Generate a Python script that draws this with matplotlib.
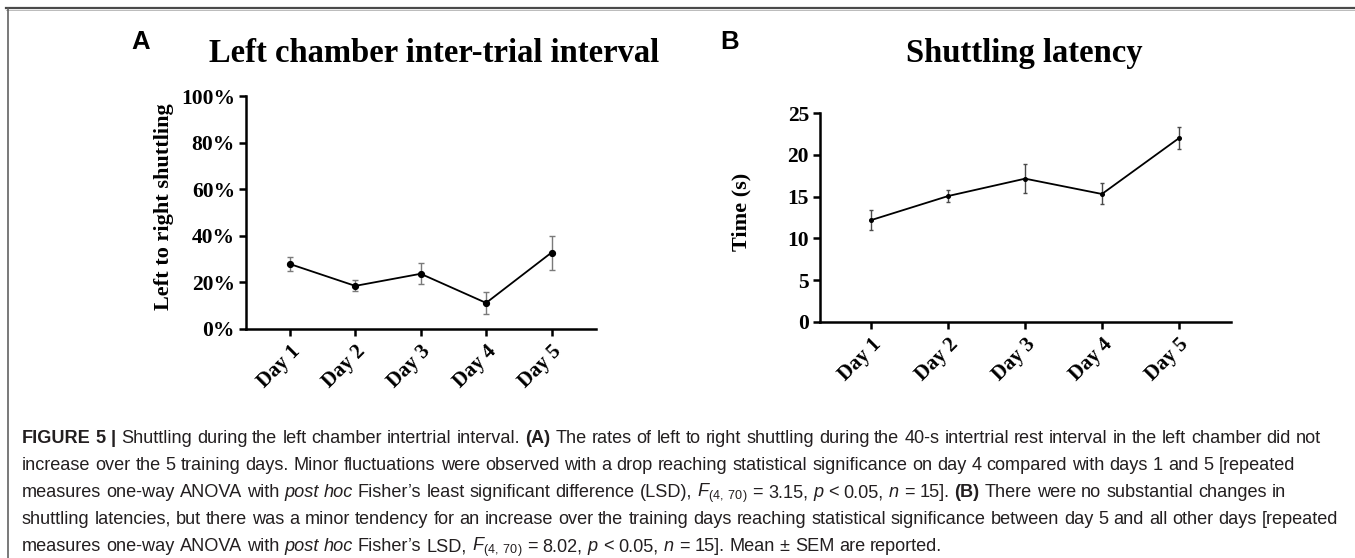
import re
import matplotlib
matplotlib.use("Agg")
import matplotlib.pyplot as plt
from matplotlib import font_manager as fm
from matplotlib.lines import Line2D

# ---------------- data ----------------
days = ["Day 1", "Day 2", "Day 3", "Day 4", "Day 5"]
a_mean = [27.9, 18.5, 23.7, 11.2, 32.8]
a_sem = [2.8, 2.4, 4.6, 4.6, 7.3]
a_ticks = [0, 20, 40, 60, 80, 100]
a_ticklabels = ["0%", "20%", "40%", "60%", "80%", "100%"]
b_mean = [12.2, 15.08, 17.16, 15.32, 22.0]
b_sem = [1.14, 0.76, 1.78, 1.26, 1.32]
b_ticks = [0, 5, 10, 15, 20, 25]
b_ticklabels = ["0", "5", "10", "15", "20", "25"]

W, H, DPI = 1355, 558, 100


def has_font(name):
    try:
        fm.findfont(fm.FontProperties(family=name), fallback_to_default=False)
        return True
    except Exception:
        return False


SERIF = "Liberation Serif"
SANS = "Liberation Sans"
CAP = "Liberation Sans Narrow" if has_font("Liberation Sans Narrow") else "Liberation Sans"

plt.rcParams["mathtext.fontset"] = "custom"
plt.rcParams["mathtext.rm"] = CAP
plt.rcParams["mathtext.it"] = CAP + ":italic"
plt.rcParams["mathtext.bf"] = CAP + ":bold"

fig = plt.figure(figsize=(W / DPI, H / DPI), dpi=DPI)


def fx(px):
    return px / W


def fy(py):
    return 1 - py / H


# frame lines (top and left)
fig.add_artist(Line2D([fx(6), fx(1355)], [fy(8), fy(8)], color="#4a4a4a", lw=1.6))
fig.add_artist(Line2D([fx(6), fx(1355)], [fy(9.6), fy(9.6)], color="#b0b0b0", lw=0.6))
fig.add_artist(Line2D([fx(8), fx(8)], [fy(8), fy(558)], color="#555555", lw=1.1))


def make_axes(left, top, right, bottom, mean, sem, ticks, ticklabels,
              ecolor, msize, capsize):
    ax = fig.add_axes([fx(left), fy(bottom), fx(right - left), (bottom - top) / H])
    x = list(range(1, len(days) + 1))
    ax.errorbar(x, mean, yerr=sem, fmt="none", ecolor=ecolor, elinewidth=1.0,
                capsize=capsize, capthick=1.0, zorder=2)
    ax.plot(x, mean, color="black", lw=1.3, marker="o", markersize=msize,
            markerfacecolor="black", markeredgecolor="black", zorder=3)
    ax.set_xlim(0.33, 5.68)
    ax.set_ylim(ticks[0], ticks[-1])
    ax.set_yticks(ticks)
    ax.set_yticklabels(ticklabels, fontfamily=SERIF, fontweight="bold", fontsize=15.5)
    ax.set_xticks(x)
    ax.set_xticklabels(days, fontfamily=SERIF, fontweight="bold", fontsize=15,
                       rotation=45, ha="right", va="top", rotation_mode="anchor")
    for s in ["top", "right"]:
        ax.spines[s].set_visible(False)
    for s in ["left", "bottom"]:
        ax.spines[s].set_linewidth(1.8)
    ax.tick_params(axis="both", direction="out", length=5, width=1.8, pad=3)
    ax.tick_params(axis="x", pad=4)
    ax.set_facecolor("none")
    for c in ax.spines.values():
        c.set_capstyle("projecting")
    return ax


axA = make_axes(246, 96, 596, 329, a_mean, a_sem, a_ticks, a_ticklabels,
                "#7a7a7a", 4.2, 2.5)
axB = make_axes(820, 113.3, 1231, 321.7, b_mean, b_sem, b_ticks, b_ticklabels,
                "#4a4a4a", 2.6, 1.6)

# titles and labels
fig.text(fx(434), fy(62), "Left chamber inter-trial interval", fontfamily=SERIF,
         fontweight="bold", fontsize=23.5, ha="center", va="baseline")
fig.text(fx(1024), fy(62), "Shuttling latency", fontfamily=SERIF,
         fontweight="bold", fontsize=23.5, ha="center", va="baseline")
fig.text(fx(141), fy(49), "A", fontfamily=SANS, fontweight="bold", fontsize=18.5,
         ha="center", va="baseline")
fig.text(fx(730), fy(49), "B", fontfamily=SANS, fontweight="bold", fontsize=18.5,
         ha="center", va="baseline")
fig.text(fx(164), fy(207), "Left to right shuttling", fontfamily=SERIF,
         fontweight="bold", fontsize=16, rotation=90, ha="center", va="center")
fig.text(fx(741), fy(212), "Time (s)", fontfamily=SERIF,
         fontweight="bold", fontsize=16, rotation=90, ha="center", va="center")

# ---------------- caption ----------------
N, B, I = "normal", "bold", "italic"
caption_lines = [
    [("FIGURE 5 |", B), (" Shuttling during the left chamber intertrial interval. ", N),
     ("(A)", B), (" The rates of left to right shuttling during the 40-s intertrial rest "
                  "interval in the left chamber did not", N)],
    [("increase over the 5 training days. Minor fluctuations were observed with a drop "
      "reaching statistical significance on day 4 compared with days 1 and 5 [repeated", N)],
    [("measures one-way ANOVA with ", N), ("post hoc", I),
     (" Fisher\u2019s least significant difference (LSD), ", N), (r"$F_{(4,\;70)}$", N),
     (" = 3.15, ", N), ("p", I), (" < 0.05, ", N), ("n", I), (" = 15]. ", N), ("(B)", B),
     (" There were no substantial changes in", N)],
    [("shuttling latencies, but there was a minor tendency for an increase over the "
      "training days reaching statistical significance between day 5 and all other days [repeated", N)],
    [("measures one-way ANOVA with ", N), ("post hoc", I), (" Fisher\u2019s LSD, ", N),
     (r"$F_{(4,\;70)}$", N), (" = 8.02, ", N), ("p", I), (" < 0.05, ", N), ("n", I),
     (" = 15]. Mean \u00b1 SEM are reported.", N)],
]

renderer = fig.canvas.get_renderer()
CAP_COLOR = "#231f20"


def style_kw(st, size):
    kw = dict(fontfamily=CAP, fontsize=size, color=CAP_COLOR)
    if st == B:
        kw["fontweight"] = "bold"
    elif st == I:
        kw["fontstyle"] = "italic"
    return kw


def tokenize(pieces):
    toks = []
    pending = False
    for text, st in pieces:
        for w in re.findall(r" +|[^ ]+", text):
            if w.startswith(" "):
                pending = True
            else:
                toks.append((w, st, pending))
                pending = False
    return toks


def measure(s, st, size):
    t = fig.text(0, 0, s, **style_kw(st, size))
    w = t.get_window_extent(renderer).width
    t.remove()
    return w


def line_width(toks, size):
    sp = measure("a a", N, size) - measure("aa", N, size)
    tot = 0
    for i, (w, st, gap) in enumerate(toks):
        if i > 0 and gap:
            tot += sp
        tot += measure(w, st, size)
    return tot, sp


tok_lines = [tokenize(p) for p in caption_lines]
base = 11.0
w0, _ = line_width(tok_lines[0], base)
size = base * (1320 - 22) / w0

x0 = 22
ys = [443, 470, 497, 524, 551]
for toks, yb in zip(tok_lines, ys):
    _, sp = line_width(toks, size)
    x = x0
    for i, (w, st, gap) in enumerate(toks):
        if i > 0 and gap:
            x += sp
        t = fig.text(fx(x), fy(yb), w, ha="left", va="baseline", **style_kw(st, size))
        x += t.get_window_extent(renderer).width

fig.savefig("out.png", dpi=DPI)
